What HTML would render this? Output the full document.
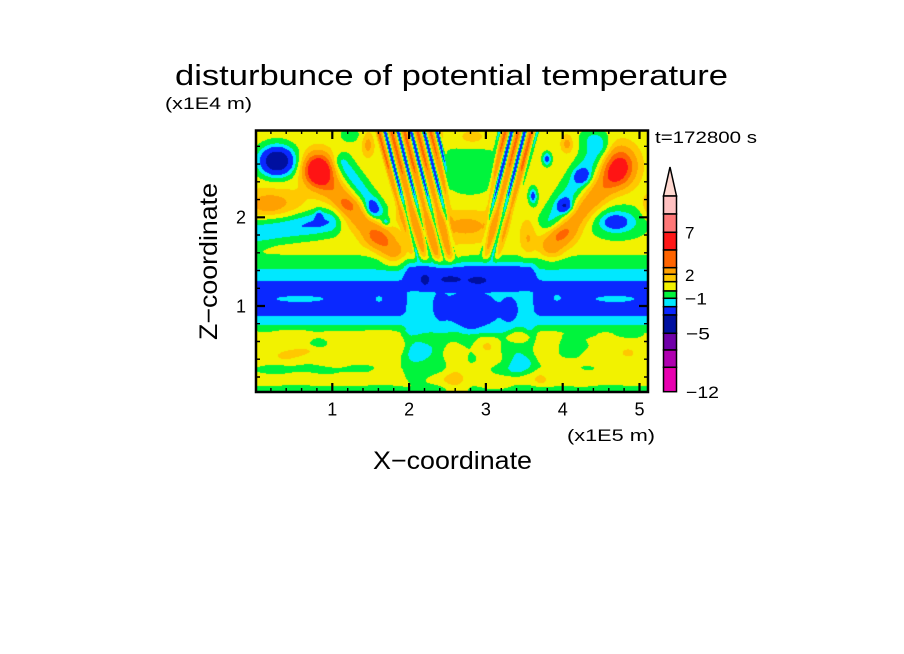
<!DOCTYPE html>
<html><head><meta charset="utf-8"><style>
html,body{margin:0;padding:0;background:#fff;}
#wrap{position:relative;width:904px;height:654px;overflow:hidden;background:#fff;}
#cv{position:absolute;left:256px;top:130px;width:392px;height:262px;
background:linear-gradient(to bottom,#f2f200 0,#f2f200 49%,#00f43c 49%,#00f43c 53%,#00e8ff 53%,#00e8ff 58%,#0a28ff 58%,#0a28ff 72%,#00e8ff 72%,#00e8ff 75%,#00f43c 75%,#00f43c 77%,#f2f200 77%,#f2f200 97%,#00f43c 97%);}
svg{position:absolute;left:0;top:0;}
text{font-family:"Liberation Sans",sans-serif;fill:#000;}
</style></head><body><div id="wrap">
<canvas id="cv" width="392" height="262"></canvas>
<svg width="904" height="654" viewBox="0 0 904 654">
<text x="175" y="85" font-size="29" textLength="553" lengthAdjust="spacingAndGlyphs">disturbunce of potential temperature</text>
<text x="165" y="109" font-size="17" textLength="87" lengthAdjust="spacingAndGlyphs">(x1E4 m)</text>
<text x="655" y="143" font-size="17" textLength="102" lengthAdjust="spacingAndGlyphs">t=172800 s</text>
<rect x="256" y="130.5" width="392" height="261.5" fill="none" stroke="#000" stroke-width="2.5"/>
<path stroke="#000" stroke-width="2.2" fill="none" d="M332.3 392V383M409.1 392V383M485.9 392V383M562.7 392V383M639.5 392V383
M332.3 130V139M409.1 130V139M485.9 130V139M562.7 130V139M639.5 130V139
M256 306H265M256 217.3H265M648 306H639M648 217.3H639"/>
<path stroke="#000" stroke-width="1.4" fill="none" d="M270.9 392V388M286.2 392V388M301.6 392V388M316.9 392V388M347.7 392V388M363 392V388M378.4 392V388M393.7 392V388M424.5 392V388M439.8 392V388M455.2 392V388M470.5 392V388M501.3 392V388M516.6 392V388M532 392V388M547.3 392V388M578.1 392V388M593.4 392V388M608.8 392V388M624.1 392V388
M270.9 130V134M286.2 130V134M301.6 130V134M316.9 130V134M347.7 130V134M363 130V134M378.4 130V134M393.7 130V134M424.5 130V134M439.8 130V134M455.2 130V134M470.5 130V134M501.3 130V134M516.6 130V134M532 130V134M547.3 130V134M578.1 130V134M593.4 130V134M608.8 130V134M624.1 130V134
M256 377H260M256 359.2H260M256 341.5H260M256 323.7H260M256 288.3H260M256 270.5H260M256 252.8H260M256 235H260M256 199.6H260M256 181.8H260M256 164.1H260M256 146.3H260
M648 377H644M648 359.2H644M648 341.5H644M648 323.7H644M648 288.3H644M648 270.5H644M648 252.8H644M648 235H644M648 199.6H644M648 181.8H644M648 164.1H644M648 146.3H644"/>
<text x="246" y="223.5" font-size="18" text-anchor="end">2</text>
<text x="246" y="312.5" font-size="18" text-anchor="end">1</text>
<text x="332.3" y="415.5" font-size="18" text-anchor="middle">1</text>
<text x="409.1" y="415.5" font-size="18" text-anchor="middle">2</text>
<text x="485.9" y="415.5" font-size="18" text-anchor="middle">3</text>
<text x="562.7" y="415.5" font-size="18" text-anchor="middle">4</text>
<text x="639.5" y="415.5" font-size="18" text-anchor="middle">5</text>
<text x="567" y="441" font-size="17" textLength="88" lengthAdjust="spacingAndGlyphs">(x1E5 m)</text>
<text x="373" y="469" font-size="25" textLength="159" lengthAdjust="spacingAndGlyphs">X−coordinate</text>
<text transform="translate(217,261.5) rotate(-90)" x="0" y="0" font-size="25" text-anchor="middle" textLength="157" lengthAdjust="spacingAndGlyphs">Z−coordinate</text>
<g stroke="#000" stroke-width="1.5">
<polygon points="663.5,196 676.5,196 670,167" fill="#ffd8d0"/>
<rect x="663.5" y="196" width="13" height="18" fill="#ffc0c0"/>
<rect x="663.5" y="214" width="13" height="18.3" fill="#ff7878"/>
<rect x="663.5" y="232.3" width="13" height="17.7" fill="#ff1818"/>
<rect x="663.5" y="250" width="13" height="17.7" fill="#ff6400"/>
<rect x="663.5" y="267.7" width="13" height="6.6" fill="#ffa000"/>
<rect x="663.5" y="274.3" width="13" height="7.4" fill="#ffc800"/>
<rect x="663.5" y="281.7" width="13" height="9.3" fill="#f2f200"/>
<rect x="663.5" y="291" width="13" height="7.3" fill="#00f43c"/>
<rect x="663.5" y="298.3" width="13" height="8.4" fill="#00e8ff"/>
<rect x="663.5" y="306.7" width="13" height="8.3" fill="#0a28ff"/>
<rect x="663.5" y="315" width="13" height="18.3" fill="#0010a0"/>
<rect x="663.5" y="333.3" width="13" height="16.7" fill="#7000a8"/>
<rect x="663.5" y="350" width="13" height="17.3" fill="#b000b0"/>
<rect x="663.5" y="367.3" width="13" height="24.4" fill="#e800b0"/>
</g>
<text x="685" y="238.5" font-size="17">7</text>
<text x="685" y="281" font-size="17">2</text>
<text x="685" y="304.5" font-size="17" textLength="22" lengthAdjust="spacingAndGlyphs">−1</text>
<text x="686" y="339.5" font-size="17" textLength="24" lengthAdjust="spacingAndGlyphs">−5</text>
<text x="686" y="398" font-size="17" textLength="33" lengthAdjust="spacingAndGlyphs">−12</text>
</svg>
</div>
<script>
(function(){
var c=document.getElementById('cv');if(!c.getContext)return;var ctx=c.getContext('2d');
var W=392,H=262,X0=256,Y0=130;
var img=ctx.createImageData(W,H),d=img.data;
function g(x,y,b){var dx=(x-b[0])/b[2],dy=(y-b[1])/b[3],r=dx*dx+dy*dy;return r>25?0:b[4]*Math.exp(-0.5*r);}
function rg(x,y,q){var vx=q[2]-q[0],vy=q[3]-q[1],t=((x-q[0])*vx+(y-q[1])*vy)/(vx*vx+vy*vy);if(t<0)t=0;if(t>1)t=1;var dx=x-q[0]-t*vx,dy=y-q[1]-t*vy,r=(dx*dx+dy*dy)/(q[4]*q[4]);return r>25?0:q[5]*Math.exp(-0.5*r);}
function pl(p,y){if(y<=p[0][0])return p[0][1];for(var i=1;i<p.length;i++){if(y<=p[i][0]){var a=p[i-1],b=p[i];return a[1]+(b[1]-a[1])*(y-a[0])/(b[0]-a[0]);}}return p[p.length-1][1];}
function ss(a,b,x){var t=(x-a)/(b-a);if(t<0)t=0;if(t>1)t=1;return t*t*(3-2*t);}
var OUT=[[130,0.5],[246,0.5],[254,0.1],[260,-0.5],[268,-0.8],[272,-1.5],[280,-1.9],[285,-2.9],[300,-3.2],[312,-2.7],[317,-1.8],[323,-1.3],[327,-0.6],[333,0.4],[360,0.5],[367,0.15],[375,0.45],[384,0.4],[387,-0.4],[392,-0.6]];
var CEN=[[250,0.4],[258,-0.3],[264,-1.4],[268,-2.4],[288,-3],[293,-1.5],[330,-1.4],[337,-0.5],[392,-0.4]];
var B=[[277,161,12,10,-7],[318,169,10,11,7],[347,205,6,5,1.2],[378,238,9,6,1.4],[272,203,22,10,1.9],[268,205,8,5,0.8],[315,220,16,12,-0.4],[319,216,2.5,4,-1.8],[372,209,5,6,-2.2],[386,222,3,3,-2],
[620,166,11,13,5.5],[560,233,9,6,1.4],[582,176,5.5,5,-2.5],[565,206,5,5,-3.2],[547,159,3,4.5,-3.3],[533,196,3,6,-3],[618,222,20,11,-2.2],[615,222,8,5,-1.8],[650,206,6,9,1.5],
[470,168,22,20,-1.3],[472,138,12,7,1.2],[466,226,24,11,1.9],[528,238,5,12,1.5],[368,145,4,8,2],[350,135,8,6,-1],[567,144,4,6,2],[593,138,10,8,-1.2],
[300,299,30,3.5,1.6],[379,299,4,3,1.6],[615,299,25,3.5,1.6],[557,298,4,3,1.6],[425,279,4,5,-2],[450,279,9,3,-2],[478,280,8,3,-2],[470,312,20,14,-1.6],[510,310,5,8,-1.5],[440,305,4,8,-1.4],
[487,350,10,12,1.5],[518,336,8,7,1.2],[455,365,8,25,1.3],[495,380,50,5,1.2],[518,365,8,9,-1.3],[418,354,9,9,-1.2],[295,353,12,5,0.8],[338,352,7,4,0.8],[318,344,7,3,-1.2],[300,370,45,3,-0.7],[573,346,10,8,-1.2],[628,354,5,3,0.8],[610,333,30,4,-0.6]];
var R=[[322,178,393,252,9,2.6],[611,178,552,246,9,2.6],[256,233,328,222,9,-2.3],[342,163,378,212,7,-2.0],[598,150,552,222,9,-2.0],[405,215,445,258,8,1.0]];
var COL=[[0,16,160],[10,40,255],[0,232,255],[0,244,60],[242,242,0],[255,200,0],[255,160,0],[255,100,0],[255,20,20]];
var TH=[-4,-2,-1,0,1,2,3.5,5];
var K=2*Math.PI/13;
function stripe(s){var n=s<0?-s:0;return 1.0+2.4*s-2.6*n*n*n*n;}
for(var j=0;j<H;j++){var y=Y0+j+0.5,po=pl(OUT,y),pc=pl(CEN,y),wy=ss(250,262,y);
var a=(y<165?1:(y<210?1-(y-165)/45*0.55:0.45))*(1-ss(250,266,y));
var lr=442-0.19*(y-130),rl=498+0.16*(y-130);
for(var i=0;i<W;i++){var x=X0+i+0.5;
var cw=ss(398,412,x)*(1-ss(528,542,x))*wy;
var v=(1-cw)*po+cw*pc,k;
for(k=0;k<B.length;k++)v+=g(x,y,B[k]);
for(k=0;k<R.length;k++)v+=rg(x,y,R[k]);
if(a>0){
var sL=x-0.3*(y-130),sR=x+0.3*(y-130);
var wl=ss(370,378,sL)*(1-ss(lr-5,lr+3,sL)),wr=ss(rl-3,rl+5,sR)*(1-ss(534,542,sR));
if(wl>0)v+=wl*a*stripe(Math.sin(K*sL+1.0+0.02*(y-130)));
if(wr>0)v+=wr*a*stripe(Math.sin(K*sR+2.2-0.02*(y-130)));
}
if(y>330)v+=0.3*Math.sin(x*0.11+y*0.05)*Math.sin(y*0.23-x*0.03);
var ci=0;while(ci<8&&v>=TH[ci])ci++;
var o=(j*W+i)*4,cc=COL[ci];d[o]=cc[0];d[o+1]=cc[1];d[o+2]=cc[2];d[o+3]=255;}}
ctx.putImageData(img,0,0);
})();
</script>
</body></html>
